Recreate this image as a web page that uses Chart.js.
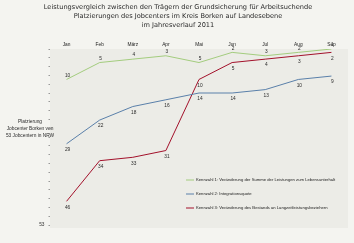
<!DOCTYPE html>
<html>
<head>
<meta charset="utf-8">
<script src="https://cdn.jsdelivr.net/npm/chart.js@4"></script>
<style>
  html, body { margin: 0; padding: 0; background: #f3f3ef; }
  #wrap { width: 354px; height: 243px; }
</style>
</head>
<body>
<div id="wrap"><canvas id="myChart" width="354" height="243"></canvas></div>
<script>
// Platzierung (Rang) des Jobcenters Borken je Monat
const months = ['Jan', 'Feb', 'März', 'Apr', 'Mai', 'Jun', 'Jul', 'Aug', 'Sep'];
const kennzahl1 = [10, 5, 4, 3, 5, 2, 3, 2, 1];
const kennzahl2 = [29, 22, 18, 16, 14, 14, 13, 10, 9];
const kennzahl3 = [46, 34, 33, 31, 10, 5, 4, 3, 2];
const seriesNames = [
  'Kennzahl 1: Veränderung der Summe der Leistungen zum Lebensunterhalt',
  'Kennzahl 2: Integrationsquote',
  'Kennzahl 3: Veränderung des Bestands an Langzeitleistungsbeziehern'
];
const titleLines = [
  'Leistungsvergleich zwischen den Trägern der Grundsicherung für Arbeitsuchende',
  'Platzierungen des Jobcenters im Kreis Borken auf Landesebene',
  'im Jahresverlauf 2011'
];
const yTitleLines = ['Platzierung', 'Jobcenter Borken von', '53 Jobcentern in NRW'];
const rankMin = 1;
const rankMax = 53;

const FONT = 'DejaVu Sans';
const SMALL = 'Liberation Sans';

const extras = {
  id: 'extras',
  beforeDraw(chart) {
    const c = chart.ctx, a = chart.chartArea;
    c.save();
    c.fillStyle = '#f4f4f0';
    c.fillRect(0, 0, chart.width, chart.height);
    c.fillStyle = '#ececE7';
    c.fillRect(a.left, a.top, a.right - a.left, a.bottom - a.top + 3);
    c.restore();
  },
  afterDraw(chart) {
    const c = chart.ctx;
    c.save();
    // Titel
    c.fillStyle = '#2a2a2a';
    c.textAlign = 'center';
    c.textBaseline = 'middle';
    c.font = '6.6px "' + FONT + '"';
    titleLines.forEach((t, i) => c.fillText(t, 178, 7 + i * 9));

    // y-Achsentitel
    c.font = '4.8px "' + SMALL + '"';
    yTitleLines.forEach((t, i) => c.fillText(t, 30, 122 + i * 7));

    // Werte an den Punkten
    c.font = '4.8px "' + SMALL + '"';
    chart.data.datasets.forEach((ds, di) => {
      const meta = chart.getDatasetMeta(di);
      meta.data.forEach((pt, i) => {
        const dy = di === 0 ? -4 : 6;
        c.fillText(ds.data[i], pt.x + 1, pt.y + dy);
      });
    });

    // Legende
    c.textAlign = 'left';
    c.font = '4.2px "' + SMALL + '"';
    chart.data.datasets.forEach((ds, di) => {
      const y = 180 + di * 14;
      c.strokeStyle = ds.borderColor;
      c.lineWidth = 1;
      c.beginPath();
      c.moveTo(186, y);
      c.lineTo(194, y);
      c.stroke();
      c.fillStyle = '#1a1a1a';
      c.fillText(ds.label, 196, y);
    });
    c.restore();
  }
};

const ctx = document.getElementById('myChart');

let chart = new Chart(ctx, {
  type: 'line',
  data: {
    labels: months,
    datasets: [{
      label: seriesNames[0],
      data: kennzahl1,
      borderColor: '#a3cc7e',
      borderWidth: 1
    }, {
      label: seriesNames[1],
      data: kennzahl2,
      borderColor: '#5a80aa',
      borderWidth: 1
    }, {
      label: seriesNames[2],
      data: kennzahl3,
      borderColor: '#a3112b',
      borderWidth: 1
    }]
  },
  options: {
    responsive: false,
    animation: false,
    layout: { padding: { left: 0, right: 6, top: 36, bottom: 18 } },
    elements: { point: { radius: 0 }, line: { tension: 0 } },
    plugins: {
      legend: { display: false },
      tooltip: { enabled: false }
    },
    scales: {
      x: {
        position: 'top',
        offset: true,
        grid: { display: false, drawTicks: false },
        border: { display: false },
        ticks: {
          color: '#222',
          font: { family: SMALL, size: 4.8 },
          maxRotation: 0,
          padding: 1
        },
        afterFit(s) { s.height = 13; }
      },
      y: {
        reverse: true,
        min: rankMin,
        max: rankMax,
        grid: { drawOnChartArea: false, drawTicks: true, tickLength: 1.5, color: '#999' },
        border: { display: false },
        ticks: {
          stepSize: 2.6,
          color: '#333',
          font: { family: SMALL, size: 4.8 },
          padding: 4,
          callback: (v) => Math.abs(v - rankMax) < 0.01 ? String(rankMax) : ''
        },
        afterFit(s) { s.width = 50; }
      }
    }
  },
  plugins: [extras]
});
</script>
</body>
</html>
